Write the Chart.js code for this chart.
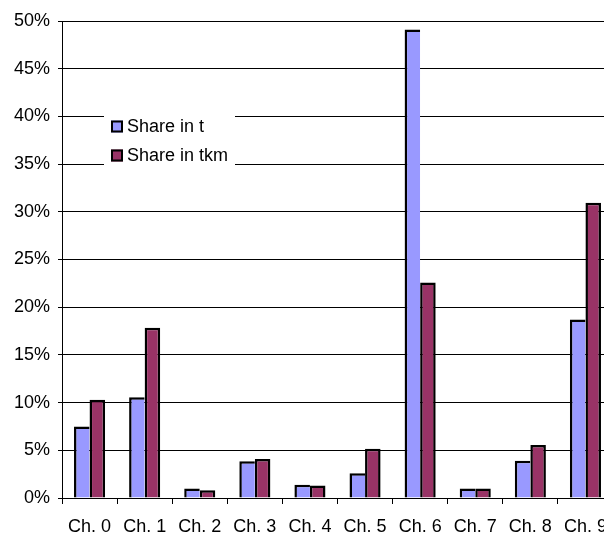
<!DOCTYPE html>
<html>
<head>
<meta charset="utf-8">
<script src="https://cdn.jsdelivr.net/npm/chart.js@4"></script>
<style>
  html, body { margin: 0; padding: 0; overflow: hidden; background: #fff; }
  #wrap { width: 620px; height: 534px; }
</style>
</head>
<body>
<div id="wrap"><canvas id="shareChart" width="620" height="534"></canvas></div>
<script>
const categories = ['Ch. 0', 'Ch. 1', 'Ch. 2', 'Ch. 3', 'Ch. 4', 'Ch. 5', 'Ch. 6', 'Ch. 7', 'Ch. 8', 'Ch. 9'];
const shareInT   = [7.5, 10.55, 1.0, 3.85, 1.4, 2.6, 49.1, 1.0, 3.9, 18.7];
const shareInTkm = [10.3, 17.85, 0.8, 4.1, 1.3, 5.15, 22.6, 1.0, 5.55, 30.95];
const seriesNames = ['Share in t', 'Share in tkm'];

const FONT = '"Liberation Sans", Arial, sans-serif';

// legend drawn inside plot with white box over the gridlines
const innerLegend = {
  id: 'innerLegend',
  afterDraw(chart) {
    const c = chart.ctx;
    c.save();
    c.fillStyle = '#fff';
    c.fillRect(104, 108, 131, 64);
    c.font = '18px ' + FONT;
    c.textBaseline = 'middle';
    chart.data.datasets.forEach((ds, i) => {
      const cy = 126.5 + i * 29;
      c.fillStyle = ds.backgroundColor;
      c.fillRect(111, cy - 6, 12, 12);
      c.strokeStyle = '#000';
      c.lineWidth = 2;
      c.strokeRect(112, cy - 5, 10, 10);
      c.fillStyle = '#000';
      c.fillText(ds.label, 127, cy + 1);
    });
    c.restore();
  }
};

new Chart(document.getElementById('shareChart').getContext('2d'), {
  type: 'bar',
  data: {
    labels: categories,
    datasets: [{
      label: seriesNames[0],
      data: shareInT,
      backgroundColor: '#9999ff',
      borderColor: '#000',
      borderWidth: { top: 2.5, left: 2.5, right: 0, bottom: 0 },
      borderSkipped: false,
      inflateAmount: 0
    }, {
      label: seriesNames[1],
      data: shareInTkm,
      backgroundColor: '#993366',
      borderColor: '#000',
      borderWidth: { top: 2.5, left: 2.5, right: 2.5, bottom: 0 },
      borderSkipped: false,
      inflateAmount: 0
    }]
  },
  options: {
    responsive: false,
    animation: false,
    devicePixelRatio: 1,
    layout: { padding: { top: 21, right: 7, left: 0, bottom: 0 } },
    datasets: { bar: { barPercentage: 1.0, categoryPercentage: 0.564 } },
    plugins: {
      legend: { display: false },
      tooltip: { enabled: false }
    },
    scales: {
      x: {
        grid: { offset: true, drawOnChartArea: false, drawTicks: true, tickLength: 6, color: '#000' },
        border: { display: true, color: '#000', width: 1 },
        ticks: { color: '#000', font: { family: FONT, size: 18 }, padding: 12, maxRotation: 0, autoSkip: false },
        afterFit(scale) { scale.height = 36; }
      },
      y: {
        min: 0,
        max: 50,
        grid: { color: '#000', lineWidth: 1, drawTicks: true, tickLength: 4 },
        border: { display: true, color: '#000', width: 1 },
        ticks: {
          stepSize: 5,
          color: '#000',
          padding: 8,
          font: { family: FONT, size: 18 },
          callback: v => v + '%'
        },
        afterFit(scale) { scale.width = 62; }
      }
    }
  },
  plugins: [innerLegend]
});
</script>
</body>
</html>
